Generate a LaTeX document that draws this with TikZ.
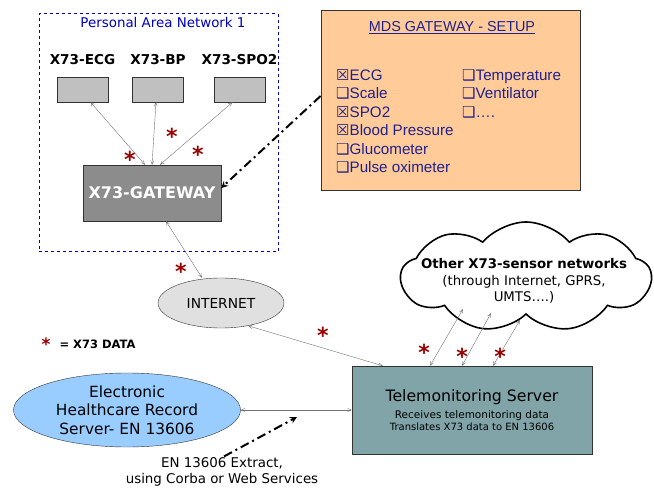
\documentclass[tikz,border=0pt]{standalone}
\usepackage{fontspec}
\setmainfont{DejaVu Sans}
\newfontfamily\arialfont{Liberation Sans}
\newfontfamily\symfont{DejaVu Sans}
\usetikzlibrary{positioning, shapes, arrows, fit}

\definecolor{panblue}{RGB}{0,0,190}
\definecolor{setupblue}{RGB}{32,32,140}
\definecolor{setupfill}{RGB}{255,204,153}
\definecolor{devgray}{RGB}{192,192,192}
\definecolor{gwgray}{RGB}{140,140,140}
\definecolor{netgray}{RGB}{224,224,224}
\definecolor{ehrblue}{RGB}{153,204,255}
\definecolor{srvteal}{RGB}{128,164,168}
\definecolor{stared}{RGB}{153,0,0}

\tikzset{Dev/.style={draw=black!80, fill=devgray, minimum width=51pt, minimum height=25pt, inner sep=0pt}}
\tikzset{DevLabel/.style={font=\bfseries\fontsize{13.6}{15}\selectfont}}
\tikzset{Link/.style={draw=black!55, <->, >=angle 45, line width=0.4pt}}
\tikzset{Star/.style={text=stared, font=\bfseries\fontsize{22}{22}\selectfont, inner sep=0pt, yshift=-4.5pt}}
\tikzset{DashArrow/.style={draw, -stealth, line width=2pt, dash pattern=on 9pt off 4pt on 2pt off 4pt}}
\tikzset{Setup/.style={text=setupblue, font=\arialfont\fontsize{15.2}{18.5}\selectfont, align=left, inner sep=0pt}}
\newcommand{\Checked}{{\symfont\fontsize{15}{15}\selectfont ☒}}
\newcommand{\Unchecked}{{\symfont\fontsize{15}{15}\selectfont ❑}}

\begin{document}
\begin{tikzpicture}[x=1pt, y=-1pt]
    \useasboundingbox (0,0) rectangle (654,489);

    %% Personal area network
    \node[draw=panblue, dashed, line width=1pt, minimum width=239pt, minimum height=238pt] (pan) at (158.5,133) {};
    \node[text=panblue, font=\fontsize{13.4}{15}\selectfont] (panlbl) at (163,23) {Personal Area Network 1};

    \node[Dev] (ecg) at (82.5,89.5) {};
    \node[Dev] (bp) at (158,89.5) {};
    \node[Dev] (spo) at (239.5,89.5) {};
    \node[DevLabel, above=9pt of ecg] (ecglbl) {X73-ECG};
    \node[DevLabel, above=9pt of bp] (bplbl) {X73-BP};
    \node[DevLabel, above=9pt of spo] (spolbl) {X73-SPO2};

    \node[draw=black!80, fill=gwgray, minimum width=138pt, minimum height=56pt, text=white,
          font=\bfseries\fontsize{16}{18}\selectfont] (gw) at (152,193) {X73-GATEWAY};

    \draw[Link] ([xshift=8pt]ecg.south) -- ([xshift=-7pt]gw.north);
    \draw[Link] ([xshift=-2pt]bp.south) -- (gw.north);
    \draw[Link] ([xshift=-7pt]spo.south) -- ([xshift=8pt]gw.north);

    \node[Star] (s1) at (130,155) {*};
    \node[Star] (s2) at (172,132) {*};
    \node[Star] (s3) at (198,150) {*};

    %% Setup box
    \node[draw=black!80, fill=setupfill, line width=0.8pt, minimum width=259pt, minimum height=180pt] (mds) at (450.5,100) {};
    \node[text=setupblue, font=\arialfont\fontsize{14.4}{16}\selectfont] (mdstitle) at (452,28) {\underline{MDS GATEWAY - SETUP}};
    \node[Setup, anchor=north west] (left) at (336,69)
        {\Checked ECG\\ \Unchecked Scale\\ \Checked SPO2\\ \Checked Blood Pressure\\ \Unchecked Glucometer\\ \Unchecked Pulse oximeter};
    \node[Setup, anchor=north west] (right) at (462,69)
        {\Unchecked Temperature\\ \Unchecked Ventilator\\ \Unchecked ….};

    \draw[DashArrow] ([yshift=4pt]mds.west) -- ([yshift=5pt]gw.east);

    %% Internet
    \node[draw=black!80, fill=netgray, ellipse, minimum width=126pt, minimum height=50pt,
          font=\fontsize{13.8}{15}\selectfont] (inet) at (221,303) {INTERNET};
    \draw[Link] ([xshift=14pt]gw.south) -- ([xshift=-19pt]inet.north);
    \node[Star] (s4) at (181,267) {*};

    \node[Star, font=\bfseries\fontsize{17}{17}\selectfont, yshift=0pt] (leg) at (46,340) {*};
    \node[font=\bfseries\fontsize{11.5}{13}\selectfont, anchor=west] (leglbl) at (56,344) {= X73 DATA};

    %% Servers
    \node[draw=black!80, fill=srvteal, minimum width=240pt, minimum height=88pt, align=center] (srv) at (472,410)
        {\fontsize{15.7}{18}\selectfont Telemonitoring Server\\[5pt]
         \fontsize{10.5}{13}\selectfont Receives telemonitoring data\\ Translates X73 data to EN 13606};
    \node[draw=black!80, fill=ehrblue, ellipse, minimum width=227pt, minimum height=74pt, align=center,
          font=\fontsize{15.4}{18.5}\selectfont, inner sep=0pt] (ehr) at (127,410)
        {Electronic\\ Healthcare Record\\ Server- EN 13606};

    \draw[Link] (inet.-40) -- ([xshift=31pt]srv.north west);
    \node[Star] (s5) at (323,331) {*};
    \draw[Link] (ehr.east) -- (srv.west);

    \node[align=center, font=\fontsize{13.4}{16}\selectfont, inner sep=1pt] (extract) at (222,472)
        {EN 13606 Extract,\\ using Corba or Web Services};
    \coordinate (exttip) at (297,417);
    \draw[DashArrow] ([xshift=2pt]extract.north) -- (exttip);

    %% Other networks
    \node[cloud, cloud puffs=9, cloud puff arc=100, aspect=2.3, draw, line width=1.6pt, fill=white,
          minimum width=250pt, minimum height=110pt] (cloud) at (526,277) {};
    \node[align=center, font=\fontsize{13.3}{16.5}\selectfont] (cloudtxt) at (524,281)
        {\textbf{Other X73-sensor networks}\\ (through Internet, GPRS,\\ UMTS….)};
    \draw[Link] ([xshift=-42pt]srv.north) -- ([xshift=-63pt, yshift=6pt]cloud.south);
    \draw[Link] ([xshift=-10pt]srv.north) -- ([xshift=-35pt, yshift=2pt]cloud.south);
    \draw[Link] ([xshift=21pt]srv.north) -- ([xshift=-6pt, yshift=-5pt]cloud.south);
    \node[Star] (s6) at (424,348) {*};
    \node[Star] (s7) at (462,352) {*};
    \node[Star] (s8) at (500,352) {*};
\end{tikzpicture}
\end{document}
